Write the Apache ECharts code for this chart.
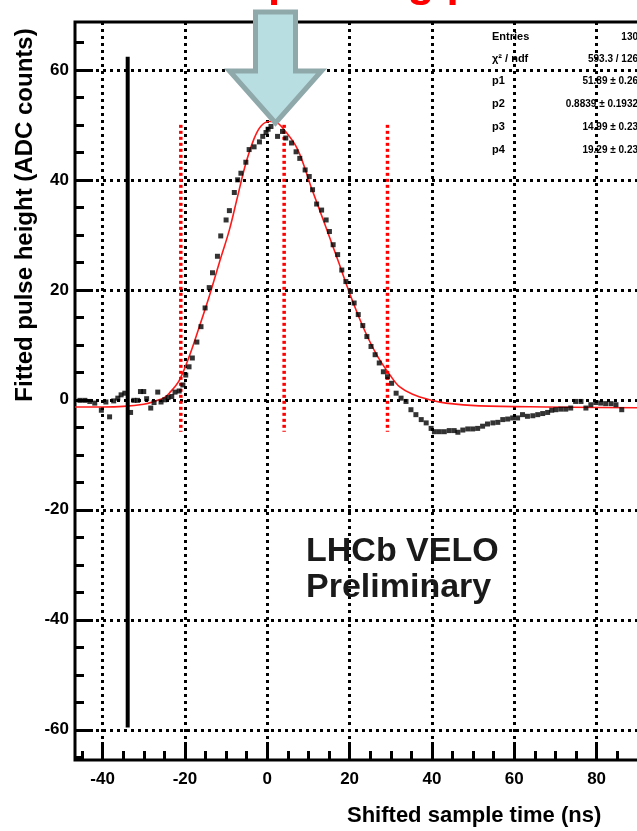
<!DOCTYPE html>
<html><head><meta charset="utf-8">
<script src="https://cdn.jsdelivr.net/npm/echarts@6/dist/echarts.min.js"></script>
<style>html,body{margin:0;padding:0;background:#fff;} #c{width:637px;height:831px;}</style>
</head><body><div id="c"></div>
<script>
// ---- data ----
const dataX = [-45.5,-44.3,-43.1,-41.9,-40.3,-39.2,-38.3,-37.3,-36.3,-35.5,-34.6,-33.2,-32.4,-31.5,-30.8,-30.0,-29.3,-28.3,-27.5,-26.6,-25.8,-24.9,-24.1,-23.2,-22.4,-21.4,-20.5,-19.8,-19.0,-18.2,-17.1,-16.1,-15.1,-14.1,-13.3,-12.1,-11.3,-10.0,-9.2,-8.0,-7.2,-6.4,-5.2,-4.4,-3.2,-1.9,-1.1,-0.3,0.2,0.9,2.5,3.7,4.5,5.9,7.0,7.9,9.2,10.2,11.0,12.0,13.2,14.3,15.1,16.0,17.1,18.1,19.1,20.2,21.1,22.1,23.2,24.2,25.2,26.2,27.2,28.2,29.2,30.2,31.3,32.5,33.7,34.9,36.1,37.4,38.6,39.8,40.6,41.8,43.0,44.2,45.4,46.3,47.5,48.7,49.9,51.1,52.3,53.5,54.8,56.0,57.2,58.4,59.6,60.8,62.0,63.2,64.5,65.7,66.9,68.1,69.1,70.1,71.3,72.5,73.7,74.9,76.2,77.4,78.6,79.8,81.0,82.2,83.5,84.7,86.1];
const dataY = [-0.1,-0.1,-0.3,-0.6,-1.9,-0.4,-3.1,-0.2,0.3,0.9,1.2,-2.3,-0.1,-0.1,1.5,1.5,0.2,-1.5,-0.5,1.4,-0.4,0.0,0.4,0.6,1.4,1.6,2.7,4.5,6.0,7.6,10.5,13.3,16.7,20.4,23.1,26.1,29.8,32.7,34.4,37.7,40.0,41.2,43.2,45.5,46.0,46.9,47.9,48.6,49.2,49.7,47.9,48.8,47.6,46.7,45.1,43.9,41.8,40.6,38.2,35.6,34.5,32.7,30.6,28.2,26.4,23.6,21.5,19.7,17.6,15.5,13.5,11.5,9.7,8.2,6.7,5.1,4.2,3.0,1.2,0.3,-0.3,-1.8,-2.7,-3.6,-4.2,-5.2,-5.8,-5.8,-5.8,-5.6,-5.6,-5.9,-5.5,-5.3,-5.3,-5.2,-4.8,-4.4,-4.2,-4.1,-3.6,-3.5,-3.3,-3.3,-2.7,-3.0,-2.9,-2.7,-2.5,-2.3,-1.9,-1.8,-1.7,-1.7,-1.5,-0.3,-0.3,-1.5,-0.9,-0.5,-0.6,-0.7,-0.7,-0.9,-1.8];
const fitX = [-46.7,-40,-35,-30,-27.5,-25,-23.8,-21.4,-19.0,-16.5,-14.1,-11.7,-9.2,-7.2,-5.2,-3.2,-1.5,0.5,1.7,4.1,7.4,10.6,13.9,17.1,20.3,23.6,26.8,30.1,32.1,35.3,39.4,43.4,51.5,67.7,100];
const fitY = [-1.3,-1.3,-1.2,-0.8,-0.3,0.4,1.2,3.5,7.8,13.3,18.8,24.8,30.9,37.0,43.0,47.5,49.8,50.6,50.6,49.1,45.5,38.8,32.1,25.5,18.8,12.7,7.9,4.2,2.4,1.0,0.0,-0.6,-1.1,-1.3,-1.5];
const xTicks = [-40,-20,0,20,40,60,80];
const xMinorTicks = [-45,-35,-30,-25,-15,-10,-5,5,10,15,25,30,35,45,50,55,65,70,75,85,90,95];
const yTicks = [-60,-40,-20,0,20,40,60];
const yMinorTicks = [-65,-55,-50,-45,-35,-30,-25,-15,-10,-5,5,10,15,25,30,35,45,50,55,65];
const blackLineX = -33.9, blackLineY = [62.4, -59.6];
const redLinesX = [-21.0, 4.1, 29.2], redLinesY = [50, -5.8];
const arrowTip = [2.0, 49.8];
const statsLabels = ['Entries','\u03C7\u00B2 / ndf','p1','p2','p3','p4'];
const statsValues = ['130','593.3 / 126','51.89 \u00B1 0.26','0.8839 \u00B1 0.1932','14.99 \u00B1 0.23','19.29 \u00B1 0.23'];
const xMin = -46.7, xMax = 100, yMin = -65.5, yMax = 68.7;

const FONT = '"Liberation Sans", Arial, sans-serif';
const chart = echarts.init(document.getElementById('c'), null, {renderer:'canvas'});
const pts = dataX.map((x,i)=>[x,dataY[i]]);
const fit = fitX.map((x,i)=>[x,fitY[i]]);
const series = [
  {type:'line', data: fit, smooth:0.35, showSymbol:false, symbol:'none', lineStyle:{color:'#ff1a1a', width:1.6}, z:3, silent:true},
  {type:'line', data: blackLineY.map(y=>[blackLineX,y]), symbol:'none', lineStyle:{color:'#000', width:4}, z:4, silent:true}
];
redLinesX.forEach(x=>series.push({type:'line', data: redLinesY.map(y=>[x,y]), symbol:'none', lineStyle:{color:'#ff0000', width:3.5, type:[3,3]}, z:4, silent:true}));
series.push({type:'scatter', data: pts, symbol:'rect', symbolSize:5, itemStyle:{color:'#000'}, z:5, silent:true});

const gridDots = {show:true, lineStyle:{color:'#000', width:3, type:[3,4]}};
const noLine = {show:false, onZero:false};
chart.setOption({
  animation:false,
  grid:{left:75, top:22, right:637-75-(xMax-xMin)*4.117, bottom:71, show:true, borderColor:'#000', borderWidth:3, backgroundColor:'transparent', containLabel:false, outerBoundsMode:'none'},
  xAxis:[
    {type:'value', min:xMin, max:xMax, position:'bottom',
     axisLine:noLine,
     axisTick:{show:true, inside:true, length:18, customValues:xTicks, lineStyle:{color:'#000', width:3}},
     axisLabel:{customValues:xTicks, color:'#000', fontSize:17, fontWeight:'bold', fontFamily:FONT, margin:11},
     splitLine:gridDots},
    {type:'value', min:xMin, max:xMax, position:'bottom', gridIndex:0,
     axisLine:noLine, axisLabel:{show:false}, splitLine:{show:false},
     axisTick:{show:true, inside:true, length:9, customValues:xMinorTicks, lineStyle:{color:'#000', width:3}}}
  ],
  yAxis:[
    {type:'value', min:yMin, max:yMax, position:'left',
     axisLine:noLine,
     axisTick:{show:true, inside:true, length:18, customValues:yTicks, lineStyle:{color:'#000', width:3}},
     axisLabel:{customValues:yTicks, color:'#000', fontSize:17, fontWeight:'bold', fontFamily:FONT, margin:6},
     splitLine:gridDots},
    {type:'value', min:yMin, max:yMax, position:'left', gridIndex:0,
     axisLine:noLine, axisLabel:{show:false}, splitLine:{show:false},
     axisTick:{show:true, inside:true, length:9, customValues:yMinorTicks, lineStyle:{color:'#000', width:3}}}
  ],
  series: series
});

// annotations
const tip = chart.convertToPixel({gridIndex:0}, arrowTip);
const ax = tip[0], ay = tip[1];
const arrowPts = [[ax-20,12],[ax+20,12],[ax+20,ay-55],[ax+46,ay-55],[ax,ay-3],[ax-46,ay-55],[ax-20,ay-55]];
const g = [
  {type:'text', left:268, top:-38, style:{text:'peaking point', fill:'#ff0000', font:'bold 44px '+FONT}},
  {type:'polygon', shape:{points:arrowPts}, style:{fill:'#b9dee2', stroke:'#8fa8aa', lineWidth:5, lineJoin:'miter'}, z:100},
  {type:'text', x:25, y:215, rotation:Math.PI/2, style:{text:'Fitted pulse height (ADC counts)', fill:'#000', font:'bold 24px '+FONT, align:'center', verticalAlign:'middle'}},
  {type:'text', left:347, top:805, style:{text:'Shifted sample time (ns)', fill:'#000', font:'bold 22px '+FONT}},
  {type:'text', left:306, top:535, style:{text:'LHCb VELO', fill:'#1a1a1a', font:'bold 34px '+FONT}},
  {type:'text', left:306, top:571, style:{text:'Preliminary', fill:'#1a1a1a', font:'bold 34px '+FONT}}
];
const rowY = [37,59,81,104,127,150];
statsLabels.forEach((t,i)=>{
  g.push({type:'text', x:492, y:rowY[i], style:{text:t, fill:'#000', font:'bold 11px '+FONT, align:'left', verticalAlign:'middle'}, z:50});
  g.push({type:'text', x:638, y:rowY[i], style:{text:statsValues[i], fill:'#000', font:'bold 10px '+FONT, align:'right', verticalAlign:'middle'}, z:50});
});
chart.setOption({graphic:g});
</script></body></html>
